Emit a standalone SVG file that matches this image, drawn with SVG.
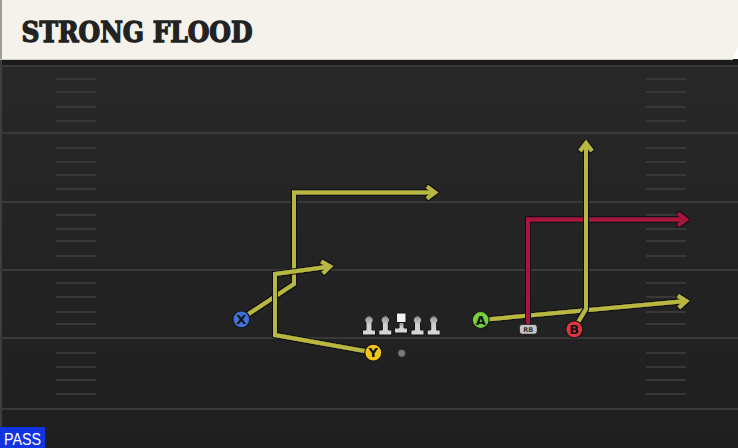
<svg xmlns="http://www.w3.org/2000/svg" width="738" height="448" viewBox="0 0 738 448">
<style>
.yard{stroke:#393939;stroke-width:2.2}
.hash{stroke:#383838;stroke-width:2}
.route{fill:none;stroke-width:4;stroke-linejoin:miter;filter:url(#ol)}
.ry{stroke:#b7b742;marker-end:url(#ahY)}
.rr{stroke:#a9173a;marker-end:url(#ahR)}
.pl{stroke:#15151a;stroke-width:1.2}
.pt{font-family:"DejaVu Sans","Liberation Sans",sans-serif;font-weight:bold;font-size:13px;fill:#111;text-anchor:middle}
.ol{fill:url(#lg);stroke:#141414;stroke-width:1}
</style>
<defs>
<linearGradient id="fieldg" x1="0" y1="0" x2="0" y2="1">
<stop offset="0" stop-color="#282828"/>
<stop offset="1" stop-color="#1f1f1f"/>
</linearGradient>
<linearGradient id="lg" gradientUnits="objectBoundingBox" x1="0" y1="0" x2="0" y2="1">
<stop offset="0" stop-color="#8c8c8c"/>
<stop offset="0.45" stop-color="#cfcfcf"/>
<stop offset="1" stop-color="#d8d8d8"/>
</linearGradient>
<filter id="ol" filterUnits="userSpaceOnUse" x="0" y="0" width="738" height="448">
<feMorphology in="SourceAlpha" operator="dilate" radius="1.1" result="d"/>
<feFlood flood-color="#0c0c14"/>
<feComposite in2="d" operator="in" result="o"/>
<feMerge><feMergeNode in="o"/><feMergeNode in="SourceGraphic"/></feMerge>
</filter>
<marker id="ahY" markerUnits="userSpaceOnUse" viewBox="-14 -10 20 20" markerWidth="20" markerHeight="20" refX="0" refY="0" orient="auto" overflow="visible">
<path d="M-8,-6 L0,0 L-8,6" fill="none" stroke="#b7b742" stroke-width="4" stroke-linejoin="miter"/>
</marker>
<marker id="ahR" markerUnits="userSpaceOnUse" viewBox="-14 -10 20 20" markerWidth="20" markerHeight="20" refX="0" refY="0" orient="auto" overflow="visible">
<path d="M-8,-6 L0,0 L-8,6" fill="none" stroke="#a9173a" stroke-width="4" stroke-linejoin="miter"/>
</marker>
<g id="lineman">
<path class="ol" d="M-6.5,0 L6.5,0 L6.5,-5 L3,-5 L3,-12 A4.2,4.2 0 1 0 -3,-12 L-3,-5 L-6.5,-5 Z"/>
</g>
</defs>

<!-- field -->
<rect x="0" y="60" width="738" height="388" fill="url(#fieldg)"/>
<rect x="0" y="59" width="738" height="6" fill="#1a1a1a"/>
<rect x="0" y="60" width="2" height="388" fill="#3e3e3e"/>
<g id="yardlines">
<line class="yard" x1="0" y1="66" x2="738" y2="66"/>
<line class="yard" x1="0" y1="133" x2="738" y2="133"/>
<line class="yard" x1="0" y1="202" x2="738" y2="202"/>
<line class="yard" x1="0" y1="270" x2="738" y2="270"/>
<line class="yard" x1="0" y1="338" x2="738" y2="338"/>
<line class="yard" x1="0" y1="409" x2="738" y2="409"/>
</g>
<g id="hashmarks">
<path class="hash" d="M56,79H96M56,92H96M56,107H96M56,121H96M56,148H96M56,162H96M56,175H96M56,189H96M56,215H96M56,229H96M56,241H96M56,256H96M56,283H96M56,297H96M56,312H96M56,324H96M56,353H96M56,367H96M56,380H96M56,394H96"/>
<path class="hash" d="M646,79H686M646,92H686M646,107H686M646,121H686M646,148H686M646,162H686M646,175H686M646,189H686M646,215H686M646,229H686M646,241H686M646,256H686M646,283H686M646,297H686M646,312H686M646,324H686M646,353H686M646,367H686M646,380H686M646,394H686"/>
</g>

<!-- header -->
<g id="header">
<polygon points="0,0 738,0 738,47 732,60 0,60" fill="#f5f2ec"/>
<rect x="0" y="0" width="2" height="60" fill="#9d9c98"/>
<line x1="0" y1="59.5" x2="733" y2="59.5" stroke="#cfccc5" stroke-width="1"/>
<text x="21.5" y="41.5" font-family="'DejaVu Serif','Liberation Serif',serif" font-weight="bold" font-size="28" fill="#222" stroke="#222" stroke-width="1.4" stroke-linejoin="miter" textLength="231" lengthAdjust="spacingAndGlyphs">STRONG FLOOD</text>
</g>

<!-- connectors -->
<g id="connectors">
<path id="route-x" class="route ry" d="M241,319 L294,284 L294,192.5 L435,192.5"/>
<path id="route-y" class="route ry" d="M373,352.5 L275,335 L275,274 L330,266.4"/>
<path id="route-a" class="route ry" d="M481,320 L686.3,301"/>
<path id="route-rb" class="route rr" d="M528,326 L528,219.5 L686,219.5"/>
<path id="route-b" class="route ry" d="M574,329 L586,309 L586,143"/>
</g>

<!-- offensive line -->
<g id="oline">
<use href="#lineman" x="369" y="335"/>
<use href="#lineman" x="385.3" y="335"/>
<g id="center">
<path class="ol" d="M394.5,333 L407.5,333 L407.5,328 L404,328 L404,322.5 L399,322.5 L399,328 L394.5,328 Z"/>
<rect x="396.5" y="313" width="9.5" height="9.5" fill="#f3f3f3" stroke="#141414" stroke-width="1"/>
</g>
<use href="#lineman" x="417.5" y="335"/>
<use href="#lineman" x="433.7" y="335"/>
</g>
<g id="ball"><circle cx="401.7" cy="353.3" r="4" fill="#7a7a7a" stroke="#1a1a1a" stroke-width="0.8"/></g>

<!-- players -->
<g id="player-x"><circle class="pl" cx="241.3" cy="319.3" r="8.5" fill="#3d72d6"/><text class="pt" x="241.3" y="324">X</text></g>
<g id="player-y"><circle class="pl" cx="373.3" cy="352.7" r="8.5" fill="#f2c51c"/><text class="pt" x="373.3" y="357.4">Y</text></g>
<g id="player-a"><circle class="pl" cx="480.7" cy="320" r="8.5" fill="#76d03e"/><text class="pt" x="480.7" y="324.7">A</text></g>
<g id="player-rb"><rect x="519.3" y="324.3" width="18" height="10" rx="3" fill="#c4c4c4" stroke="#1a1a1a" stroke-width="1"/><text x="528.3" y="332" font-family="'DejaVu Sans','Liberation Sans',sans-serif" font-weight="bold" font-size="6.5" fill="#333" text-anchor="middle">RB</text></g>
<g id="player-b"><circle class="pl" cx="574.3" cy="329.3" r="8.5" fill="#e2363f"/><text class="pt" x="574.3" y="334">B</text></g>

<!-- pass tag -->
<g id="pass-tag">
<rect x="0" y="427" width="45" height="21" fill="#1133e0"/>
<text x="4" y="445" font-family="'Liberation Sans','DejaVu Sans',sans-serif" font-size="16" fill="#ffffff" textLength="37" lengthAdjust="spacingAndGlyphs">PASS</text>
</g>
</svg>
